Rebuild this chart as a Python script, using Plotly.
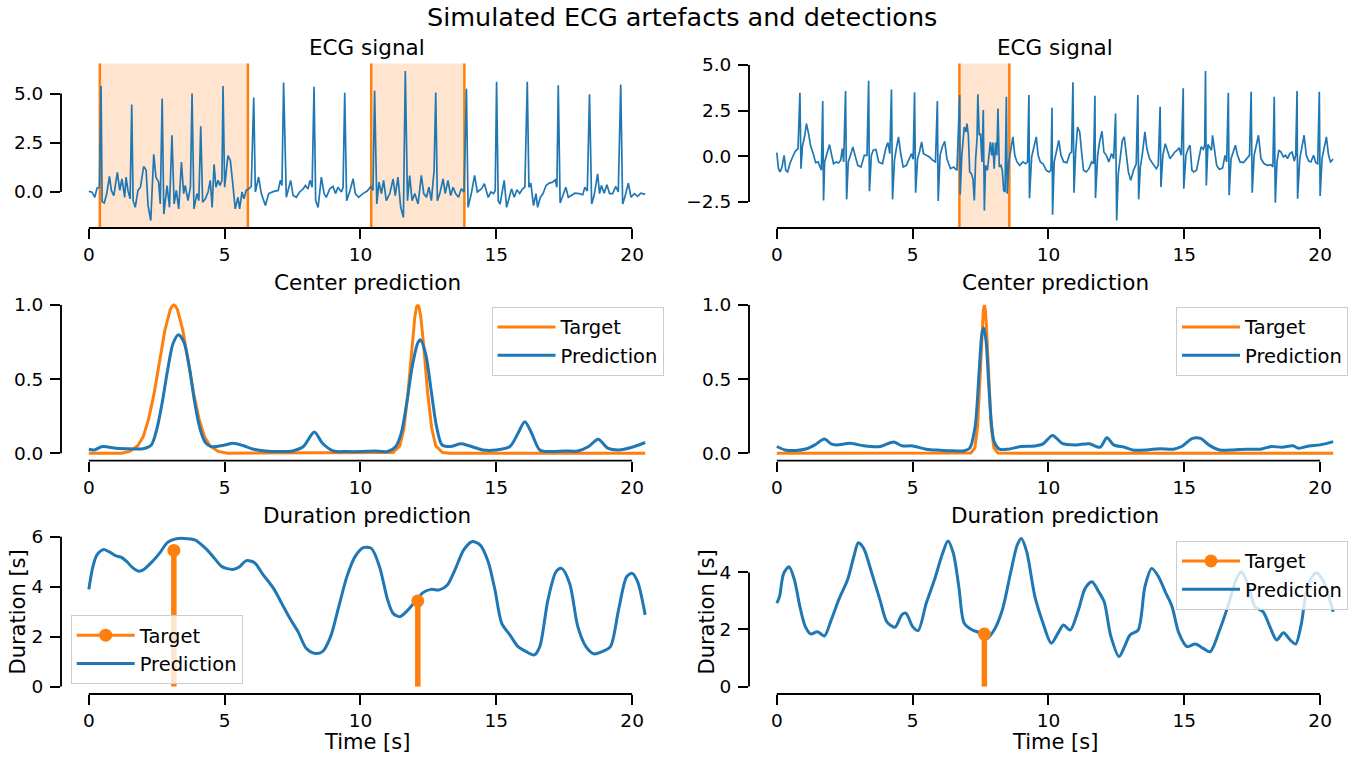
import plotly.graph_objects as go

FONT = "DejaVu Sans"
BLUE = "#1f77b4"
ORANGE = "#ff7f0e"
W, H = 1364, 757

# ---------------- Recording A (left column) ----------------
ecg_a_t = [
    0.0, 0.12, 0.22, 0.30, 0.39, 0.45, 0.49, 0.57, 0.66, 0.76, 0.83, 0.92, 1.05, 1.14, 1.22, 1.32,
    1.37, 1.44, 1.52, 1.58, 1.63, 1.71, 1.81, 1.9, 2.02, 2.11, 2.18, 2.28, 2.39, 2.47, 2.57, 2.63,
    2.7, 2.76, 2.88, 2.97, 3.06, 3.14, 3.22, 3.31, 3.41, 3.49, 3.55, 3.65, 3.74, 3.8, 3.87, 3.98,
    4.05, 4.12, 4.19, 4.29, 4.39, 4.47, 4.54, 4.61, 4.68, 4.76, 4.83, 4.9, 4.94, 5.0, 5.12, 5.21,
    5.3, 5.39, 5.49, 5.55, 5.64, 5.71, 5.79, 5.89, 5.98, 6.07, 6.13, 6.25, 6.35, 6.5, 6.62, 6.81,
    6.97, 7.05, 7.11, 7.17, 7.27, 7.36, 7.43, 7.52, 7.64, 7.76, 7.89, 7.97, 8.07, 8.14, 8.22, 8.29,
    8.35, 8.44, 8.56, 8.66, 8.74, 8.87, 8.99, 9.08, 9.17, 9.3, 9.36, 9.42, 9.49, 9.6, 9.73, 9.81,
    9.93, 10.09, 10.25, 10.38, 10.46, 10.52, 10.6, 10.68, 10.77, 10.85, 10.95, 11.08, 11.2, 11.28,
    11.38, 11.48, 11.58, 11.65, 11.73, 11.81, 11.9, 12.0, 12.12, 12.24, 12.33, 12.43, 12.52, 12.61,
    12.71, 12.77, 12.83, 12.92, 13.04, 13.12, 13.22, 13.32, 13.41, 13.5, 13.61, 13.71, 13.81, 13.9,
    13.96, 14.08, 14.2, 14.3, 14.45, 14.56, 14.62, 14.7, 14.8, 14.9, 14.96, 15.01, 15.07, 15.14,
    15.29, 15.38, 15.48, 15.56, 15.66, 15.76, 15.86, 15.97, 16.05, 16.14, 16.2, 16.27, 16.37, 16.46,
    16.52, 16.62, 16.72, 16.83, 16.95, 17.07, 17.17, 17.23, 17.28, 17.35, 17.45, 17.56, 17.65, 17.77,
    17.89, 18.05, 18.18, 18.26, 18.35, 18.43, 18.51, 18.6, 18.73, 18.8, 18.87, 18.97, 19.07, 19.17,
    19.28, 19.4, 19.49, 19.58, 19.65, 19.73, 19.86, 19.96, 20.08, 20.2, 20.32, 20.48,
]
ecg_a_v = [
    0.03, -0.01, -0.27, 0.19, 0.24, 5.38, -0.5, -0.56, -0.08, 0.79, 0.08, -0.18, 1.0, 0.08, 0.67, -0.27,
    0.76, 0.08, -0.35, 4.44, -0.44, -0.78, 0.08, 0.24, 1.3, 1.1, -0.69, -1.45, 1.91, 0.76, 0.5, -0.61,
    4.75, -1.12, 0.33, -0.78, 2.88, -0.61, 0.08, -0.86, 1.52, -0.08, 0.33, -0.44, 0.24, 5.0, -0.86, -0.08,
    -0.44, 3.34, -0.52, -0.35, 0.0, 0.59, -0.78, 1.4, 0.24, 0.59, 0.33, 0.59, 5.38, 0.24, 1.85, 1.6,
    0.41, -0.86, -0.27, -0.86, 0.0, -0.35, 0.08, 0.16, 0.28, 4.8, 0.0, 0.76, -0.08, -0.69, -0.08, 0.03,
    0.08, 0.59, 0.33, 5.56, -0.27, 0.16, 0.59, -0.18, -0.27, 0.0, 0.16, 0.33, 0.16, 0.59, 0.24, 5.35,
    -0.44, -0.78, 0.76, -0.08, -0.27, 0.16, 0.28, -0.08, 0.24, 0.0, 0.24, 5.04, -0.44, 0.0, 0.67, -0.08,
    -0.27, -0.08, 0.05, 0.28, 0.08, 5.14, -0.61, 0.5, -0.08, 0.59, -0.44, -0.08, 0.67, -0.18,
    0.76, -0.78, -1.29, 6.15, -0.44, 0.84, -0.44, -0.08, -0.61, 0.84, -0.08, -0.27, 0.24, -0.44,
    1.1, 5.05, -0.44, -0.08, 0.67, -0.08, 0.59, -0.18, 0.24, -0.08, -0.27, 0.16, 0.0, 5.24,
    -0.78, -0.08, 0.84, 0.0, 0.16, 0.42, 0.08, -0.27, 0.0, -0.08, 0.08, 5.6, -0.44, -0.61,
    0.59, -0.78, -0.27, 0.16, -0.27, 0.11, -0.08, 0.16, 0.24, 5.6, 0.24, 0.45, -0.69, -0.08,
    -0.78, -0.27, -0.08, 0.33, 0.45, 0.5, 0.62, 0.24, 5.43, -0.56, -0.18, 0.24, -0.27, -0.18,
    -0.06, -0.08, -0.14, 0.24, 0.05, 4.96, -0.61, -0.18, 0.92, -0.08, 0.33, -0.06, 0.37, -0.08,
    -0.08, 0.28, 0.0, 5.46, -0.61, -0.27, 0.45, -0.27, -0.08, -0.22, -0.06, -0.12,
]

center_a_t = [
    0.0, 0.2, 0.5, 1.0, 1.5, 2.0, 2.3, 2.5, 2.7, 2.9, 3.1, 3.3, 3.5, 3.7, 3.9, 4.1, 4.3, 4.5, 5.0,
    5.3, 5.7, 6.0, 6.5, 7.0, 7.5, 7.9, 8.3, 8.6, 9.0, 9.5, 10.0, 10.5, 11.0, 11.3, 11.5, 11.7,
    11.9, 12.1, 12.2, 12.4, 12.6, 12.8, 13.0, 13.3, 13.7, 14.0, 14.5, 15.0, 15.5, 15.8, 16.05,
    16.3, 16.6, 17.0, 17.5, 18.0, 18.4, 18.75, 19.1, 19.5, 20.0, 20.48,
]
center_a_pred = [
    0.027, 0.022, 0.045, 0.034, 0.03, 0.03, 0.055, 0.16, 0.34, 0.56, 0.74, 0.80, 0.75, 0.58, 0.34,
    0.16, 0.07, 0.045, 0.055, 0.067, 0.05, 0.03, 0.015, 0.011, 0.015, 0.045, 0.143, 0.067, 0.015,
    0.011, 0.011, 0.015, 0.011, 0.045, 0.135, 0.335, 0.58, 0.74, 0.765, 0.67, 0.425, 0.18, 0.056,
    0.045, 0.063, 0.05, 0.022, 0.022, 0.045, 0.135, 0.213, 0.135, 0.022, 0.011, 0.015, 0.015,
    0.045, 0.094, 0.034, 0.022, 0.04, 0.072,
]
target_a_t = [
    0.0, 1.2, 1.5, 1.8, 2.0, 2.2, 2.4, 2.6, 2.8, 3.0, 3.08, 3.13, 3.18, 3.26, 3.46, 3.66, 3.86,
    4.06, 4.26, 4.46, 4.76, 5.1, 10.9, 11.2, 11.45, 11.6, 11.75, 11.9, 12.0, 12.06, 12.11, 12.16,
    12.22, 12.32, 12.47, 12.62, 12.77, 13.02, 13.3, 20.48,
]
target_a_v = [
    0.0, 0.0, 0.012, 0.05, 0.11, 0.23, 0.4, 0.62, 0.83, 0.97, 0.995, 1.0, 0.995, 0.97, 0.83, 0.62,
    0.4, 0.23, 0.11, 0.05, 0.012, 0.0, 0.0, 0.005, 0.05, 0.17, 0.41, 0.74, 0.92, 0.983, 1.0, 0.983,
    0.92, 0.74, 0.41, 0.17, 0.05, 0.005, 0.0, 0.0,
]

dur_a_t = [
    0.0, 0.15, 0.3, 0.55, 0.8, 1.0, 1.2, 1.4, 1.6, 1.85, 2.0, 2.3, 2.6, 2.9, 3.2, 3.5, 3.9, 4.3,
    4.6, 4.9, 5.3, 5.55, 5.8, 6.1, 6.4, 6.8, 7.1, 7.4, 7.7, 8.0, 8.3, 8.6, 8.9, 9.2, 9.5, 9.8,
    10.1, 10.4, 10.7, 11.0, 11.2, 11.45, 11.75, 12.06, 12.3, 12.6, 12.9, 13.2, 13.5, 13.8, 14.1,
    14.4, 14.7, 14.95, 15.2, 15.5, 15.8, 16.1, 16.4, 16.6, 16.9, 17.2, 17.4, 17.7, 18.0, 18.3,
    18.6, 18.9, 19.2, 19.5, 19.8, 20.0, 20.2, 20.48,
]
dur_a_pred = [
    3.89, 4.8, 5.27, 5.49, 5.36, 5.23, 5.17, 5.0, 4.77, 4.62, 4.67, 4.96, 5.33, 5.77, 5.91, 5.93,
    5.87, 5.53, 5.17, 4.8, 4.69, 4.8, 5.04, 4.96, 4.5, 3.93, 3.33, 2.73, 2.2, 1.53, 1.33, 1.4,
    2.0, 3.2, 4.4, 5.2, 5.56, 5.53, 4.8, 3.47, 2.93, 2.8, 3.07, 3.47, 3.76, 3.89, 3.87, 4.07,
    4.73, 5.47, 5.8, 5.67, 5.0, 3.87, 2.53, 2.07, 1.6, 1.4, 1.27, 1.6, 3.47, 4.6, 4.73, 4.13,
    2.4, 1.6, 1.31, 1.4, 1.6, 3.07, 4.4, 4.53, 4.2, 2.87,
]

events_a_center = [3.13, 12.11]
events_a_duration = [5.45, 3.43]

# ---------------- Recording B (right column) ----------------
ecg_b_t = [
    0.0, 0.06, 0.12, 0.19, 0.27, 0.33, 0.4, 0.48, 0.58, 0.68, 0.78, 0.85, 0.89, 0.94, 1.03, 1.09,
    1.17, 1.24, 1.34, 1.43, 1.52, 1.58, 1.64, 1.69, 1.72, 1.76, 1.85, 1.94, 2.02, 2.09, 2.19, 2.27,
    2.35, 2.41, 2.46, 2.53, 2.57, 2.63, 2.71, 2.8, 2.88, 2.98, 3.1, 3.22, 3.32, 3.38, 3.41, 3.48,
    3.55, 3.65, 3.75, 3.89, 4.01, 4.09, 4.16, 4.22, 4.26, 4.33, 4.41, 4.48, 4.56, 4.65, 4.77, 4.86,
    4.96, 5.02, 5.07, 5.11, 5.18, 5.25, 5.33, 5.4, 5.5, 5.62, 5.74, 5.84, 5.91, 5.94, 6.01, 6.09,
    6.18, 6.26, 6.39, 6.51, 6.63, 6.73, 6.75, 6.81, 6.9, 6.96, 7.0, 7.05, 7.1, 7.16, 7.22, 7.27,
    7.32, 7.37, 7.4, 7.45, 7.5, 7.55, 7.6, 7.64, 7.68, 7.75, 7.81, 7.86, 7.91, 7.95, 8.0, 8.05,
    8.1, 8.14, 8.19, 8.25, 8.3, 8.35, 8.4, 8.45, 8.48, 8.54, 8.62, 8.69, 8.76, 8.84, 8.94, 9.06,
    9.16, 9.23, 9.28, 9.3, 9.38, 9.46, 9.55, 9.62, 9.7, 9.8, 9.92, 10.02, 10.09, 10.13, 10.15,
    10.21, 10.29, 10.38, 10.46, 10.56, 10.68, 10.78, 10.85, 10.9, 10.94, 11.0, 11.07, 11.15, 11.22,
    11.29, 11.39, 11.49, 11.59, 11.66, 11.71, 11.73, 11.81, 11.88, 11.97, 12.04, 12.13, 12.22,
    12.32, 12.4, 12.47, 12.51, 12.57, 12.64, 12.72, 12.79, 12.86, 12.94, 13.03, 13.13, 13.23,
    13.29, 13.32, 13.38, 13.45, 13.55, 13.62, 13.72, 13.84, 13.97, 14.04, 14.11, 14.14, 14.21,
    14.3, 14.38, 14.47, 14.57, 14.65, 14.74, 14.81, 14.89, 14.96, 14.98, 15.06, 15.14, 15.21,
    15.28, 15.35, 15.45, 15.55, 15.62, 15.7, 15.75, 15.78, 15.81, 15.87, 15.95, 16.0, 16.04,
    16.12, 16.19, 16.29, 16.41, 16.5, 16.56, 16.62, 16.65, 16.72, 16.81, 16.88, 16.96, 17.05,
    17.18, 17.3, 17.4, 17.46, 17.5, 17.57, 17.64, 17.73, 17.82, 17.94, 18.06, 18.19, 18.26,
    18.31, 18.35, 18.41, 18.48, 18.56, 18.65, 18.73, 18.8, 18.88, 18.97, 19.05, 19.1, 19.15,
    19.17, 19.25, 19.33, 19.41, 19.49, 19.58, 19.66, 19.76, 19.84, 19.91, 19.97, 20.0, 20.07,
    20.16, 20.23, 20.31, 20.38, 20.48,
]
ecg_b_v = [
    0.2, -0.68, -0.86, -0.59, 0.05, -0.77, -0.86, -0.41, -0.04, 0.27, 0.42, 3.48, -0.68, 0.51, 1.15, 1.79,
    1.24, 0.6, 0.14, -0.35, -0.31, -0.5, -0.77, 3.03, -2.42, -0.31, 0.14, 0.64, 0.05, -0.41, -0.31, -0.37,
    -0.22, 0.42, -0.31, 3.57, -2.36, -0.31, 0.05, 0.51, 0.05, -0.5, -0.59, 0.05, 0.05, 4.14, -1.92, 0.05,
    0.33, 0.37, -0.31, -0.41, 0.42, 0.75, 0.14, 3.66, -2.36, -0.22, 0.51, 1.06, 0.15, -0.59, -0.5, -0.22,
    0.14, -0.16, 3.5, -2.0, -0.13, 0.23, 0.78, 0.14, 0.05, -0.04, -0.22, -0.31, 3.03, -2.45, 0.05, 0.51,
    0.82, -0.13, -0.68, -0.59, -0.77, 3.35, -2.1, 0.05, 1.6, 1.33, 1.79, 1.15, -0.86, -0.95, -1.23, -2.42,
    -0.13, 0.97, 3.39, 1.15, 1.24, -0.31, 2.53, -2.97, -0.5, -0.77, 0.05, 0.78, 0.05, 0.75, -0.68, 0.75,
    0.05, 2.62, -0.59, -0.5, -0.77, -1.87, -1.96, 3.26, -2.05, -0.31, 0.42, 1.06, 0.05, -0.31, -0.5, -0.31,
    -0.41, -0.31, 3.35, -2.3, -0.04, 0.51, 1.06, 0.05, -0.31, -0.41, -0.77, -0.86, -0.77, 2.66, -3.2,
    -0.31, 0.23, 0.87, 0.05, -0.31, -0.35, 0.14, 0.23, 4.05, -2.0, 0.23, 1.6, 1.33, 0.23,
    -0.77, -0.86, -0.68, -0.31, -0.41, 3.31, -2.29, 0.05, 0.78, 1.37, 0.23, 0.05, -0.31,
    0.14, -0.13, 2.34, -3.52, -0.95, 0.05, 0.87, 1.06, 0.05, -0.86, -1.32, -0.77, -0.41,
    3.35, -2.36, -0.59, 0.05, 1.33, 0.42, -0.13, -0.41, -0.68, -0.5, 2.71, -1.68, 0.05,
    0.69, 0.23, -0.13, 0.05, 0.23, 0.33, 0.46, 0.05, 3.72, -1.78, 0.05, 0.42, 0.6,
    -0.77, -0.86, -0.77, 0.05, 0.51, 0.38, 0.6, 4.67, -1.6, 0.64, 0.42, 0.33, 1.15,
    0.23, -0.5, -0.72, -0.64, 0.05, -0.31, 3.48, -2.14, -0.13, 0.33, 0.6, 0.05, -0.31,
    -0.35, -0.13, 0.05, 3.53, -2.0, 0.05, 0.6, 1.15, -0.13, -0.41, -0.5, -0.46, -0.59,
    3.26, -2.55, -0.31, 0.33, 0.23, -0.04, 0.05, -0.13, 0.14, 0.23, -0.27, 0.05, 3.57,
    -2.33, -0.13, 0.51, 1.15, 0.05, -0.27, -0.31, 0.05, -0.35, -0.41, 3.53, -2.18, -0.13,
    0.6, 1.06, 0.05, -0.31, -0.16,
]

center_b_t = [
    0.0, 0.3, 0.7, 1.1, 1.4, 1.75, 2.0, 2.2, 2.7, 3.2, 3.8, 4.3, 4.6, 5.0, 5.5, 6.0, 6.5, 6.9,
    7.1, 7.3, 7.45, 7.55, 7.62, 7.7, 7.8, 7.9, 8.0, 8.2, 8.5, 9.0, 9.5, 9.8, 10.15, 10.5, 11.0,
    11.5, 11.9, 12.15, 12.4, 12.8, 13.1, 13.6, 14.1, 14.6, 14.9, 15.3, 15.6, 15.9, 16.3, 16.8,
    17.3, 17.8, 18.2, 18.6, 19.0, 19.2, 19.6, 20.0, 20.48,
]
center_b_pred = [
    0.045, 0.022, 0.018, 0.03, 0.056, 0.096, 0.063, 0.056, 0.067, 0.05, 0.045, 0.076, 0.05, 0.049,
    0.027, 0.02, 0.016, 0.016, 0.034, 0.18, 0.56, 0.805, 0.845, 0.76, 0.47, 0.2, 0.078, 0.027,
    0.027, 0.045, 0.049, 0.063, 0.12, 0.067, 0.056, 0.063, 0.04, 0.105, 0.056, 0.04, 0.022, 0.022,
    0.03, 0.027, 0.045, 0.1, 0.1, 0.056, 0.022, 0.022, 0.027, 0.027, 0.045, 0.04, 0.05, 0.034,
    0.049, 0.056, 0.078,
]
target_b_t = [
    0.0, 7.0, 7.14, 7.29, 7.39, 7.49, 7.56, 7.6, 7.64, 7.68, 7.72, 7.79, 7.89, 7.99, 8.14, 9.0, 20.48,
]
target_b_v = [
    0.0, 0.0, 0.001, 0.036, 0.18, 0.54, 0.84, 0.96, 1.0, 0.96, 0.84, 0.54, 0.18, 0.036, 0.001, 0.0, 0.0,
]

dur_b_t = [
    0.0, 0.1, 0.25, 0.45, 0.65, 0.85, 1.05, 1.25, 1.5, 1.75, 2.0, 2.3, 2.6, 2.85, 3.0, 3.2, 3.5,
    3.8, 4.05, 4.35, 4.6, 4.75, 5.0, 5.2, 5.5, 5.8, 6.1, 6.3, 6.5, 6.7, 6.9, 7.2, 7.45, 7.7, 8.0,
    8.3, 8.6, 8.85, 9.0, 9.2, 9.5, 9.8, 10.1, 10.35, 10.55, 10.8, 11.1, 11.35, 11.6, 11.85, 12.05,
    12.3, 12.6, 12.8, 13.0, 13.3, 13.55, 13.8, 14.05, 14.3, 14.55, 14.8, 15.1, 15.4, 15.7, 15.95,
    16.3, 16.6, 16.9, 17.1, 17.35, 17.6, 17.9, 18.15, 18.4, 18.65, 18.9, 19.1, 19.3, 19.55, 19.85,
    20.1, 20.48,
]
dur_b_pred = [
    2.92, 3.15, 3.96, 4.2, 3.73, 2.8, 2.1, 1.84, 1.92, 1.77, 2.33, 3.09, 3.73, 4.61, 5.04, 4.84,
    3.96, 3.03, 2.27, 2.08, 2.51, 2.57, 2.1, 1.96, 2.92, 3.73, 4.66, 5.1, 4.66, 3.5, 2.22, 1.98,
    1.89, 1.66, 1.98, 2.68, 3.96, 4.96, 5.19, 4.72, 3.15, 2.22, 1.52, 1.87, 2.16, 1.98, 2.68, 3.44,
    3.67, 3.32, 2.97, 1.75, 1.05, 1.4, 1.81, 1.98, 3.5, 4.14, 3.85, 3.32, 2.8, 1.87, 1.4, 1.49,
    1.34, 1.22, 1.98, 2.8, 3.73, 4.02, 3.56, 2.8, 2.62, 2.1, 1.63, 1.89, 1.63, 1.49, 2.16, 3.56,
    3.99, 3.73, 2.62,
]

events_b_center = [7.64]
events_b_duration = [1.84]

# ---------------- layout geometry (pixels) ----------------
COLS = [(61, 673), (749, 1361)]
ROWS = [(63.5, 228), (297.6, 460.6), (531, 694)]
T_END = max(ecg_a_t)
X_RANGE = [-0.05 * T_END, 1.05 * T_END]
X_TICKS = [0, 5, 10, 15, 20]


def dom_x(col):
    a, b = COLS[col]
    return [a / W, b / W]


def dom_y(row):
    top, bottom = ROWS[row]
    return [1 - bottom / H, 1 - top / H]


def padded(lo, hi):
    pad = 0.05 * (hi - lo)
    return [lo - pad, hi + pad]


fig = go.Figure()

tick_font = dict(family=FONT, size=18.5, color="black")


def add_axes(n, row, col, y_range, y_ticks, y_text):
    sx = "" if n == 1 else str(n)
    common = dict(showline=False, showgrid=False, zeroline=False, ticks="outside", ticklen=10,
                  tickwidth=1.9, tickcolor="black", tickfont=tick_font, automargin=False,
                  fixedrange=True)
    fig.update_layout(**{
        f"xaxis{sx}": dict(domain=dom_x(col), anchor=f"y{sx}", range=X_RANGE, tickvals=X_TICKS,
                           ticktext=[str(v) for v in X_TICKS], **common),
        f"yaxis{sx}": dict(domain=dom_y(row), anchor=f"x{sx}", range=y_range, tickvals=y_ticks,
                           ticktext=y_text, ticklabelstandoff=3, **common),
    })
    xr = "x" + sx
    yr = "y" + sx
    # trimmed spines: only across the tick span
    fig.add_shape(type="line", xref=xr, yref=f"{yr} domain", x0=X_TICKS[0], x1=X_TICKS[-1],
                  y0=0, y1=0, line=dict(color="black", width=1.9))
    fig.add_shape(type="line", xref=f"{xr} domain", yref=yr, x0=0, x1=0,
                  y0=y_ticks[0], y1=y_ticks[-1], line=dict(color="black", width=1.9))
    return xr, yr


def add_spans(xr, yr, centers, durations):
    for c, d in zip(centers, durations):
        x0, x1 = c - d / 2, c + d / 2
        fig.add_shape(type="rect", xref=xr, yref=f"{yr} domain", x0=x0, x1=x1, y0=0, y1=1,
                      fillcolor="rgba(255,127,14,0.2)", line=dict(width=0), layer="below")
        for xe in (x0, x1):
            fig.add_shape(type="line", xref=xr, yref=f"{yr} domain", x0=xe, x1=xe, y0=0, y1=1,
                          line=dict(color=ORANGE, width=2.5), layer="below")


# ---- ECG panels ----
panels = [
    (ecg_a_t, ecg_a_v, events_a_center, events_a_duration, 0,
     [0, 2.5, 5], ["0.0", "2.5", "5.0"]),
    (ecg_b_t, ecg_b_v, events_b_center, events_b_duration, 1,
     [-2.5, 0, 2.5, 5], ["\u22122.5", "0.0", "2.5", "5.0"]),
]
for t, v, cen, dur, col, yt, ytxt in panels:
    xr, yr = add_axes(1 + col, 0, col, padded(min(v), max(v)), yt, ytxt)
    add_spans(xr, yr, cen, dur)
    fig.add_trace(go.Scatter(x=t, y=v, mode="lines", line=dict(color=BLUE, width=1.7),
                             xaxis=xr, yaxis=yr, showlegend=False, hoverinfo="skip"))

# ---- centre prediction panels ----
centre = [
    (target_a_t, target_a_v, center_a_t, center_a_pred, 0, "legend"),
    (target_b_t, target_b_v, center_b_t, center_b_pred, 1, "legend2"),
]
for tt, tv, pt, pv, col, leg in centre:
    xr, yr = add_axes(3 + col, 1, col, padded(0, max(tv)), [0, 0.5, 1.0], ["0.0", "0.5", "1.0"])
    fig.add_trace(go.Scatter(x=tt, y=tv, mode="lines", name="Target",
                             line=dict(color=ORANGE, width=3), xaxis=xr, yaxis=yr, legend=leg))
    fig.add_trace(go.Scatter(x=pt, y=pv, mode="lines", name="Prediction",
                             line=dict(color=BLUE, width=3, shape="spline", smoothing=0.8),
                             xaxis=xr, yaxis=yr, legend=leg))

# ---- duration prediction panels ----
duration = [
    (events_a_center, events_a_duration, dur_a_t, dur_a_pred, 0, "legend3", [0, 2, 4, 6]),
    (events_b_center, events_b_duration, dur_b_t, dur_b_pred, 1, "legend4", [0, 2, 4]),
]
for cen, dur, pt, pv, col, leg, yt in duration:
    hi = max(max(pv), max(dur))
    xr, yr = add_axes(5 + col, 2, col, padded(0, hi), yt, [str(v) for v in yt])
    fig.add_trace(go.Scatter(x=pt, y=pv, mode="lines", name="Prediction", legendrank=2,
                             line=dict(color=BLUE, width=3, shape="spline", smoothing=0.8),
                             xaxis=xr, yaxis=yr, legend=leg))
    stem_x, stem_y = [], []
    for c, d in zip(cen, dur):
        stem_x += [c, c, None]
        stem_y += [0, d, None]
    fig.add_trace(go.Scatter(x=stem_x, y=stem_y, mode="lines", line=dict(color=ORANGE, width=5.5),
                             xaxis=xr, yaxis=yr, showlegend=False, hoverinfo="skip"))
    fig.add_trace(go.Scatter(x=cen, y=dur, mode="markers", marker=dict(color=ORANGE, size=13),
                             xaxis=xr, yaxis=yr, showlegend=False))
    fig.add_trace(go.Scatter(x=[None], y=[None], mode="lines+markers", name="Target", legendrank=1,
                             line=dict(color=ORANGE, width=3), marker=dict(color=ORANGE, size=13),
                             xaxis=xr, yaxis=yr, legend=leg))


# ---- legends ----
def legend_box(x, y, xanchor, yanchor):
    return dict(x=x, y=y, xanchor=xanchor, yanchor=yanchor, xref="paper", yref="paper",
                bgcolor="rgba(255,255,255,0.8)", bordercolor="#cccccc", borderwidth=1,
                font=dict(family=FONT, size=19.5, color="black"), itemwidth=58,
                tracegroupgap=0, traceorder="normal")


fig.update_layout(
    legend=legend_box(663.5 / W, 1 - 306.7 / H, "right", "top"),
    legend2=legend_box(1348 / W, 1 - 306.7 / H, "right", "top"),
    legend3=legend_box(70.7 / W, 1 - 684 / H, "left", "bottom"),
    legend4=legend_box(1348 / W, 1 - 540.7 / H, "right", "top"),
)

# ---- titles and axis labels ----
annotations = []
titles = ["ECG signal", "Center prediction", "Duration prediction"]
for row, text in enumerate(titles):
    for col in range(2):
        a, b = COLS[col]
        annotations.append(dict(text=text, x=(a + b) / 2 / W, y=1 - ROWS[row][0] / H,
                                xref="paper", yref="paper", xanchor="center", yanchor="bottom",
                                yshift=1, showarrow=False,
                                font=dict(family=FONT, size=21.5, color="black")))
for col in range(2):
    a, b = COLS[col]
    annotations.append(dict(text="Time [s]", x=(a + b) / 2 / W, y=1 - 742 / H,
                            xref="paper", yref="paper", xanchor="center", yanchor="middle",
                            showarrow=False, font=dict(family=FONT, size=21, color="black")))
for xpx in (17, 706):
    annotations.append(dict(text="Duration [s]", x=xpx / W, y=1 - 612.5 / H, textangle=-90,
                            xref="paper", yref="paper", xanchor="center", yanchor="middle",
                            showarrow=False, font=dict(family=FONT, size=21, color="black")))
annotations.append(dict(text="Simulated ECG artefacts and detections", x=0.5, y=1 - 17 / H,
                        xref="paper", yref="paper", xanchor="center", yanchor="middle",
                        showarrow=False, font=dict(family=FONT, size=25.5, color="black")))

fig.update_layout(
    width=W, height=H, margin=dict(l=0, r=0, t=0, b=0),
    paper_bgcolor="white", plot_bgcolor="white",
    annotations=annotations, showlegend=True, hovermode=False,
)

fig.write_html("out.html")
